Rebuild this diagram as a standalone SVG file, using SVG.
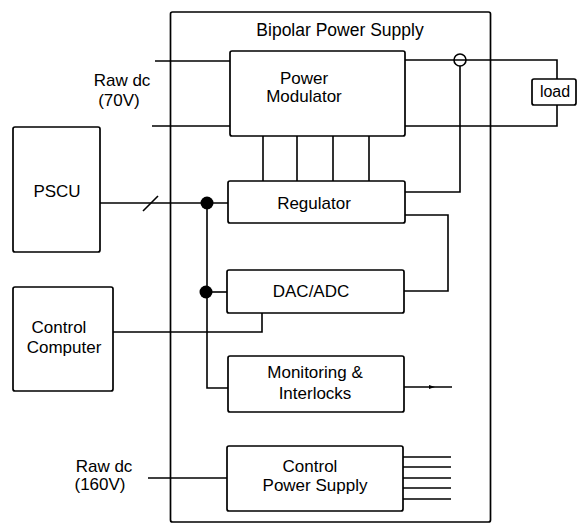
<svg xmlns="http://www.w3.org/2000/svg" width="577" height="524" viewBox="0 0 577 524">
<style>
.box{fill:none;stroke:#000;stroke-width:1.7}
.ln{fill:none;stroke:#000;stroke-width:1.6}
text{font-family:"Liberation Sans",Arial,sans-serif;font-size:17px;fill:#000;text-anchor:middle}
</style>
<rect width="577" height="524" fill="#fff"/>
<g id="bipolar">
<rect class="box" x="170.5" y="12" width="320" height="510" rx="2"/>
<text x="340" y="36" style="font-size:17.5px">Bipolar Power Supply</text>
</g>
<g id="modulator">
<rect class="box" x="230" y="51" width="175" height="85" rx="2"/>
<text x="304" y="84">Power</text>
<text x="304" y="102">Modulator</text>
</g>
<g id="regulator">
<rect class="box" x="228" y="181" width="177" height="42" rx="2"/>
<text x="314" y="209">Regulator</text>
</g>
<g id="dacadc">
<rect class="box" x="227" y="270" width="177" height="43" rx="2"/>
<text x="311" y="297">DAC/ADC</text>
</g>
<g id="monitoring">
<rect class="box" x="228" y="356" width="176" height="56" rx="2"/>
<text x="315" y="378">Monitoring &amp;</text>
<text x="315" y="399">Interlocks</text>
</g>
<g id="ctrlps">
<rect class="box" x="227" y="446" width="176" height="65" rx="2"/>
<text x="310" y="472">Control</text>
<text x="315" y="491">Power Supply</text>
</g>
<g id="pscu">
<rect class="box" x="13" y="127" width="87" height="125" rx="2"/>
<text x="57" y="197">PSCU</text>
</g>
<g id="computer">
<rect class="box" x="13" y="287" width="100" height="104" rx="2"/>
<text x="59" y="333">Control</text>
<text x="64" y="353">Computer</text>
</g>
<g id="load">
<rect class="box" x="532" y="79" width="44" height="26" rx="2"/>
<text x="555" y="97" style="font-size:16px">load</text>
</g>
<g id="raw70">
<text x="122" y="86">Raw dc</text>
<text x="119" y="106">(70V)</text>
</g>
<g id="raw160">
<text x="104" y="472">Raw dc</text>
<text x="100" y="490">(160V)</text>
</g>
<g id="connectors">
<path class="ln" d="M155,61 H230"/>
<path class="ln" d="M152,126 H230"/>
<path class="ln" d="M405,60 H557 V79"/>
<circle class="ln" cx="460" cy="60" r="6"/>
<path class="ln" d="M460,66 V192 H405"/>
<path class="ln" d="M405,126 H557 V105"/>
<path class="ln" d="M263,136 V181 M297,136 V181 M333,136 V181 M369,136 V181"/>
<path class="ln" d="M100,203 H228"/>
<path class="ln" d="M143,211 L158,196"/>
<path class="ln" d="M207,203 V388 H228"/>
<path class="ln" d="M207,292 H227"/>
<circle cx="207" cy="203" r="6.5" fill="#000"/>
<circle cx="206" cy="292" r="6.5" fill="#000"/>
<path class="ln" d="M405,215 H448 V291 H404"/>
<path class="ln" d="M113,332 H262 V313"/>
<path class="ln" d="M404,387 H452"/>
<path d="M429,385 L435,387 L429,389 Z" fill="#000"/>
<path class="ln" d="M148,478 H227"/>
<path class="ln" d="M403,457 H451 M403,467 H451 M403,478 H451 M403,488 H451 M403,499 H451"/>
</g>
</svg>
